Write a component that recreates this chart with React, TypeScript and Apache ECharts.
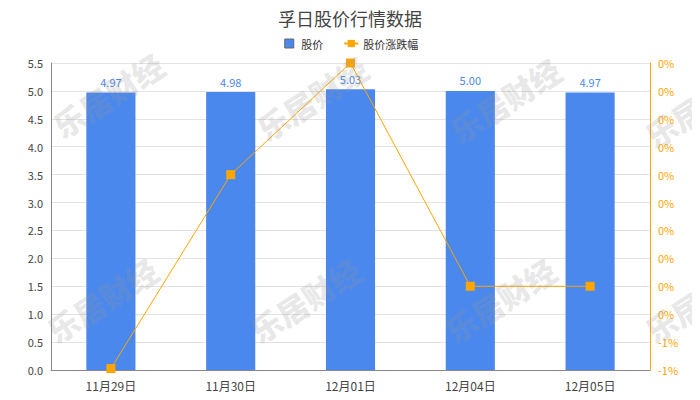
import React, { useEffect, useRef } from "react";
import * as echarts from "echarts";

const categories = ["11月29日", "11月30日", "12月01日", "12月04日", "12月05日"];
const prices = [4.97, 4.98, 5.03, 5.0, 4.97];
const changes = [-1.19, 0.2, 1.0, -0.6, -0.6];
const rightTickLabels = ["-1%", "-1%", "0%", "0%", "0%", "0%", "0%", "0%", "0%", "0%", "0%", "0%"];
const watermarkText = "乐居财经";
const watermarkSpots = [
  [108, 95], [312, 98], [505, 100], [700, 105],
  [102, 300], [305, 300], [500, 300], [700, 300],
];

export default function App() {
  const ref = useRef<HTMLDivElement>(null);
  useEffect(() => {
    if (!ref.current) return;
    const chart = echarts.init(ref.current, null, { renderer: "svg" });
    const font = "'Noto Sans CJK SC', 'Noto Sans', sans-serif";
    chart.setOption({
      animation: false,
      textStyle: { fontFamily: font },
      title: {
        text: "孚日股价行情数据",
        left: "center",
        top: 4,
        textStyle: { fontSize: 18, fontWeight: "normal", color: "#444", fontFamily: font },
      },
      legend: {
        top: 33,
        left: "center",
        itemWidth: 14,
        itemHeight: 9,
        itemGap: 20,
        textStyle: { fontSize: 11, color: "#333", fontFamily: font },
        data: [
          {
            name: "股价",
            icon: "path://M2.5,0H11.5V9H2.5Z M0,0.01L0,0 M14,9L14,8.99",
            itemStyle: { borderColor: "#666", borderWidth: 1 },
          },
          { name: "股价涨跌幅" },
        ],
      },
      grid: { left: 51, right: 50, top: 63, bottom: 30 },
      xAxis: {
        type: "category",
        data: categories,
        axisLine: { lineStyle: { color: "#888" } },
        axisTick: { show: false },
        axisLabel: { color: "#444", fontSize: 12, margin: 9, fontFamily: font },
      },
      yAxis: [
        {
          type: "value",
          min: 0,
          max: 5.5,
          interval: 0.5,
          axisLine: { show: true, lineStyle: { color: "#888" } },
          axisTick: { show: false },
          axisLabel: {
            color: "#444",
            fontSize: 11,
            margin: 8,
            formatter: (v: number) => v.toFixed(1),
          },
          splitLine: { lineStyle: { color: "#e3e3e3" } },
        },
        {
          type: "value",
          min: -1.2,
          max: 1.0,
          interval: 0.2,
          position: "right",
          axisLine: { show: true, lineStyle: { color: "#FFA500" } },
          axisTick: { show: false },
          splitLine: { show: false },
          axisLabel: {
            color: "#FFA500",
            fontSize: 11,
            margin: 8,
            formatter: (_v: number, i: number) => rightTickLabels[i] ?? "",
          },
        },
      ],
      series: [
        {
          name: "股价",
          type: "bar",
          data: prices,
          barWidth: "41%",
          itemStyle: { color: "#4a88ee" },
          label: {
            show: true,
            position: "top",
            color: "#4a88ee",
            fontSize: 11,
            formatter: (p: any) => Number(p.value).toFixed(2),
          },
        },
        {
          name: "股价涨跌幅",
          type: "line",
          yAxisIndex: 1,
          data: changes,
          symbol: "rect",
          symbolSize: 9,
          itemStyle: { color: "#FFA500" },
          lineStyle: { color: "#FFA500", width: 1 },
          z: 3,
        },
      ],
      graphic: watermarkSpots.map(([x, y]) => ({
        type: "text",
        x,
        y,
        rotation: (33 * Math.PI) / 180,
        z: 100,
        silent: true,
        style: {
          text: watermarkText,
          fontSize: 31,
          fontWeight: 900,
          fontFamily: font,
          fill: "rgba(150,150,150,0.22)",
          align: "center",
          verticalAlign: "middle",
        },
      })),
    });
    return () => chart.dispose();
  }, []);
  return <div ref={ref} style={{ width: 700, height: 400, marginLeft: -8, marginTop: -8 }} />;
}
